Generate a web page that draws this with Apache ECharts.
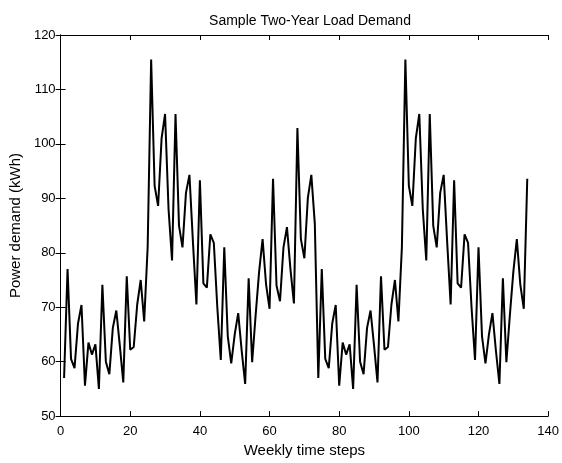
<!DOCTYPE html>
<html>
<head>
<meta charset="utf-8">
<title>Sample Two-Year Load Demand</title>
<script src="https://cdn.jsdelivr.net/npm/echarts@6/dist/echarts.min.js"></script>
<style>
  html, body { margin: 0; padding: 0; background: #fff; }
  #mychart { width: 562px; height: 463px; }
</style>
</head>
<body>
<div id="mychart"></div>
<script>
// weekly load (weeks 1..134)
const loadDemand = [
  57, 77, 60.5, 58.8, 67, 70.4, 55.6, 63.5, 61.3, 63.2,
  55, 74.1, 60, 57.7, 66.2, 69.4, 63, 56.2, 75.7, 62.2,
  62.7, 70.5, 75, 67.4, 81, 115.5, 92.3, 88.6, 101, 105.5,
  88, 78.6, 105.5, 85, 81, 91, 94.3, 82, 70.5, 93.3,
  74.4, 73.6, 83.4, 81.8, 70, 60.3, 81, 64.7, 59.7, 65,
  68.9, 62, 55.9, 75.3, 59.9, 68.5, 76.5, 82.5, 74.2, 69.7,
  93.6, 74, 71.1, 81, 84.7, 77, 70.7, 102.9, 82.5, 79,
  90.1, 94.3, 85.3,
  57, 77, 60.5, 58.8, 67, 70.4, 55.6, 63.5, 61.3, 63.2,
  55, 74.1, 60, 57.7, 66.2, 69.4, 63, 56.2, 75.7, 62.2,
  62.7, 70.5, 75, 67.4, 81, 115.5, 92.3, 88.6, 101, 105.5,
  88, 78.6, 105.5, 85, 81, 91, 94.3, 82, 70.5, 93.3,
  74.4, 73.6, 83.4, 81.8, 70, 60.3, 81, 64.7, 59.7, 65,
  68.9, 62, 55.9, 75.3, 59.9, 68.5, 76.5, 82.5, 74.2, 69.7,
  93.6
];
const xTicks = [0, 140, 20];   // min, max, step
const yTicks = [50, 120, 10];

const fontName = "Liberation Sans";
const axisBase = {
  type: "value",
  axisLine: { show: true, lineStyle: { color: "#000", width: 1 } },
  axisTick: { show: true, inside: true, length: 5, lineStyle: { color: "#000" } },
  splitLine: { show: false }
};

const getchart = echarts.init(document.getElementById("mychart"));
const option = {
  animation: false,
  backgroundColor: "#fff",
  title: {
    text: "Sample Two-Year Load Demand",
    left: 305,
    textAlign: "center",
    top: 9,
    textStyle: { fontFamily: fontName, fontSize: 14, fontWeight: "normal", color: "#000" }
  },
  grid: { left: 60, right: 12, top: 35, bottom: 38 },
  xAxis: [
    Object.assign({}, axisBase, {
      position: "bottom",
      min: xTicks[0], max: xTicks[1], interval: xTicks[2],
      name: "Weekly time steps",
      nameLocation: "middle",
      nameGap: 24,
      nameTextStyle: { fontFamily: fontName, fontSize: 15, color: "#000" },
      axisLabel: { fontFamily: fontName, fontSize: 13, color: "#000", margin: 9 }
    }),
    Object.assign({}, axisBase, {
      position: "top",
      min: xTicks[0], max: xTicks[1], interval: xTicks[2],
      axisLabel: { show: false }
    })
  ],
  yAxis: [
    Object.assign({}, axisBase, {
      position: "left",
      min: yTicks[0], max: yTicks[1], interval: yTicks[2],
      name: "Power demand (kWh)",
      nameLocation: "middle",
      nameGap: 37,
      nameTextStyle: { fontFamily: fontName, fontSize: 15, color: "#000" },
      axisLabel: { fontFamily: fontName, fontSize: 13, color: "#000", margin: 5 }
    }),
    Object.assign({}, axisBase, {
      position: "right",
      min: yTicks[0], max: yTicks[1], interval: yTicks[2],
      axisLabel: { show: false }
    })
  ],
  series: [
    {
      type: "line",
      data: loadDemand.map((v, i) => [i + 1, v]),
      showSymbol: false,
      lineStyle: { color: "#000", width: 2 }
    }
  ]
};
getchart.setOption(option);
</script>
</body>
</html>
